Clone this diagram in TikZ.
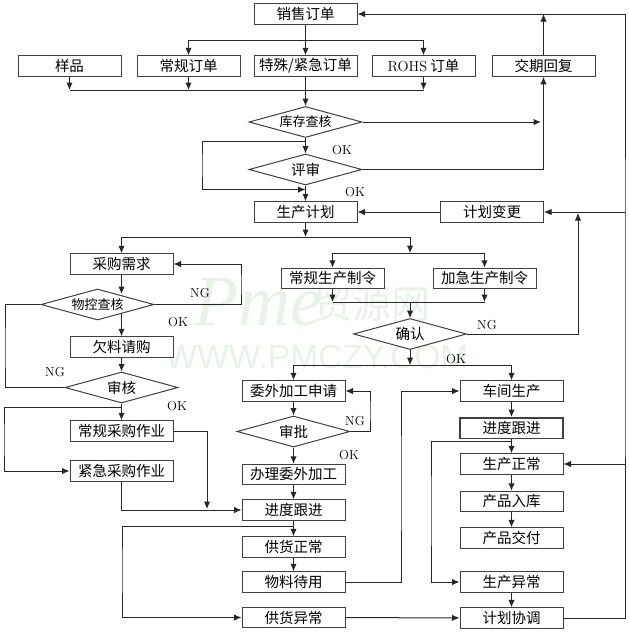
\documentclass[tikz,border=0pt]{standalone}
\usepackage{fontspec}
\usetikzlibrary{arrows.meta,shapes.geometric}
\newfontfamily\cjkfont{Noto Sans CJK SC}
\newfontfamily\markfont{Liberation Sans}
\newfontfamily\pmefont{Liberation Serif}
\definecolor{markgreen}{RGB}{230,243,230}
\tikzset{
	>={Latex[length=7.5pt,width=6.5pt]},
	line/.style={draw=black!85, line width=1pt},
	flow/.style={line, ->},
	box/.style={draw=black!75, line width=1pt, fill=white, minimum width=103pt, minimum height=20.5pt, inner sep=0pt, font=\cjkfont\fontsize{14.5}{16}\selectfont},
	check/.style={diamond, aspect=3.6, draw=black!75, line width=1pt, fill=white, minimum width=113pt, minimum height=31pt, inner sep=0pt, font=\cjkfont\fontsize{14.5}{16}\selectfont},
	smallcheck/.style={check, font=\cjkfont\fontsize{13}{15}\selectfont},
	tag/.style={inner sep=0pt, font=\fontsize{13}{15}\selectfont},
	wmark/.style={inner sep=0pt, text=markgreen}
}
\begin{document}
\begin{tikzpicture}[x=1pt, y=-1pt]
	\useasboundingbox (0,0) rectangle (629,633);
	% watermark
	\node[wmark, font=\markfont\fontsize{33.5}{34}\selectfont] (markurl) at (317,357) {WWW.PMCZY.COM};
	\node[wmark, font=\pmefont\itshape\fontsize{72}{74}\selectfont] (markname) at (258,302) {Pme};
	\node[wmark, font=\cjkfont\fontsize{39}{41}\selectfont] (markcn) at (372,304) {贸源网};

	% orders
	\node[box] (order) at (305.5,14) {销售订单};
	\node[box] (sample) at (69.5,66) {样品};
	\node[box] (regular) at (188.5,66) {常规订单};
	\node[box] (special) at (305.5,66) {特殊/紧急订单};
	\node[box] (rohs) at (423.5,66) {{\rmfamily ROHS} 订单};
	\node[box] (reply) at (543.5,66) {交期回复};
	\node[smallcheck] (stock) at (305.5,122) {库存查核};
	\node[check] (review) at (305.5,169.5) {评审};
	\node[box] (plan) at (305.5,212) {生产计划};
	\node[box] (change) at (492,212) {计划变更};

	% purchasing
	\node[box] (purchase) at (121.5,264) {采购需求};
	\node[smallcheck] (matcheck) at (97.5,304.5) {物控查核};
	\node[box] (shortage) at (121.5,347) {欠料请购};
	\node[check] (audit) at (121.5,387.5) {审核};
	\node[box] (regbuy) at (121.5,431) {常规采购作业};
	\node[box] (urgbuy) at (121.5,471) {紧急采购作业};

	% production orders
	\node[box] (regmake) at (332.5,278.5) {常规生产制令};
	\node[box] (urgmake) at (484.5,278.5) {加急生产制令};
	\node[check] (confirm) at (410,334) {确认};

	% outsourcing and supply
	\node[box] (subapply) at (293.5,391) {委外加工申请};
	\node[check] (approve) at (293.5,431.5) {审批};
	\node[box] (subdo) at (293.5,474.5) {办理委外加工};
	\node[box] (followa) at (293.5,510) {进度跟进};
	\node[box] (normal) at (293.5,547) {供货正常};
	\node[box] (standby) at (293.5,582) {物料待用};
	\node[box] (abnormal) at (293.5,617.5) {供货异常};

	% workshop
	\node[box] (workshop) at (511.5,391) {车间生产};
	\node[box, line width=1.5pt] (followb) at (511.5,428) {进度跟进};
	\node[box] (prodok) at (511.5,464) {生产正常};
	\node[box] (store) at (511.5,501.5) {产品入库};
	\node[box] (deliver) at (511.5,538) {产品交付};
	\node[box] (prodbad) at (511.5,582) {生产异常};
	\node[box] (settle) at (511.5,618) {计划协调};

	% junctions
	\coordinate (orderbus) at (305.5,40.5);
	\coordinate (inbus) at (305.5,90);
	\coordinate (stockbus) at (305.5,141);
	\coordinate (reviewbus) at (305.5,189.5);
	\coordinate (leftloop) at (202,165);
	\coordinate (replyin) at (541,122);
	\coordinate (rightline) at (625,300);
	\coordinate (nglift) at (578,213);
	\coordinate (planbus) at (305.5,237);
	\coordinate (makebus) at (410,253);
	\coordinate (joinbus) at (410,302);
	\coordinate (okbus) at (410,365);
	\coordinate (approveloop) at (370,410);
	\coordinate (matin) at (121.5,294);
	\coordinate (matout) at (121.5,313);
	\coordinate (matloop) at (241,285);
	\coordinate (ngloop) at (5,350);
	\coordinate (auditbus) at (121.5,407);
	\coordinate (buyloop) at (4,440);
	\coordinate (buyin) at (207,509);
	\coordinate (followbus) at (293.5,526);
	\coordinate (supplyloop) at (122,570);
	\coordinate (riseline) at (401,480);
	\coordinate (prodbus) at (511.5,441.5);
	\coordinate (sideline) at (431,510);

	% top part
	\draw[line] (order) -- (orderbus);
	\draw[flow] (orderbus) -- (special);
	\foreach \x in {regular, rohs}
		\draw[flow] (orderbus) -| (\x);
	\foreach \x in {sample, regular, rohs}
		\draw[flow] (\x) -- (\x |- inbus);
	\draw[line] (sample |- inbus) -- (rohs |- inbus);
	\draw[flow] (special) -- (stock);
	\draw[flow] (stock) -- (review);
	\draw[flow] (review) -- (plan);
	\draw[flow] (stockbus) -| (leftloop) |- (reviewbus);
	\draw[flow] (stock) -- (replyin);
	\draw[flow] (review) -| (reply);
	\draw[flow] (reply) -- (reply |- order);

	% right line
	\draw[flow] (settle) -| (rightline) |- (order);
	\draw[flow] (rightline |- change) -- (change);
	\draw[flow] (rightline |- prodok) -- (prodok);
	\draw[flow] (change) -- (plan);
	\draw[flow] (confirm) -| (nglift);

	% plan down
	\draw[flow] (plan) -- (planbus);
	\draw[flow] (planbus) -| (purchase);
	\draw[flow] (planbus) -| (makebus);
	\foreach \x in {regmake, urgmake}
	{
		\draw[flow] (makebus) -| (\x);
		\draw[flow] (\x) -- (\x |- joinbus);
	}
	\draw[line] (regmake |- joinbus) -- (urgmake |- joinbus);
	\draw[flow] (joinbus) -- (confirm);
	\draw[flow] (confirm) -- (okbus);
	\foreach \x in {subapply, workshop}
		\draw[flow] (okbus) -| (\x);

	% purchasing links
	\draw[flow] (purchase) -- (matin);
	\draw[flow] (matout) -- (shortage);
	\draw[flow] (matcheck) -| (matloop) |- (purchase);
	\draw[line] (matcheck) -| (ngloop) |- (audit);
	\draw[flow] (shortage) -- (audit);
	\draw[flow] (audit) -- (regbuy);
	\draw[flow] (auditbus) -| (buyloop) |- (urgbuy);
	\draw[flow] (regbuy) -| (buyin);
	\draw[flow] (urgbuy) |- (followa);

	% outsourcing links
	\draw[flow] (subapply) -- (approve);
	\draw[flow] (approve) -| (approveloop) |- (subapply);
	\foreach \a/\b in {approve/subdo, subdo/followa, followa/normal, normal/standby}
		\draw[flow] (\a) -- (\b);
	\draw[flow] (followbus) -| (supplyloop) |- (abnormal);
	\draw[flow] (standby) -| (riseline) |- (workshop);
	\draw[flow] (abnormal) -- (settle);

	% workshop links
	\foreach \a/\b in {workshop/followb, followb/prodok, prodok/store, store/deliver, prodbad/settle}
		\draw[flow] (\a) -- (\b);
	\draw[flow] (prodbus) -| (sideline) |- (prodbad);

	% labels
	\node[tag] (oka) at (342,150) {OK};
	\node[tag] (okb) at (355,192) {OK};
	\node[tag] (ngc) at (200,293) {NG};
	\node[tag] (okc) at (178,322) {OK};
	\node[tag] (ngd) at (55,372) {NG};
	\node[tag] (okd) at (177,406) {OK};
	\node[tag] (nge) at (487,325) {NG};
	\node[tag] (oke) at (456,359) {OK};
	\node[tag] (ngf) at (355,421) {NG};
	\node[tag] (okf) at (349,455) {OK};
\end{tikzpicture}
\end{document}
